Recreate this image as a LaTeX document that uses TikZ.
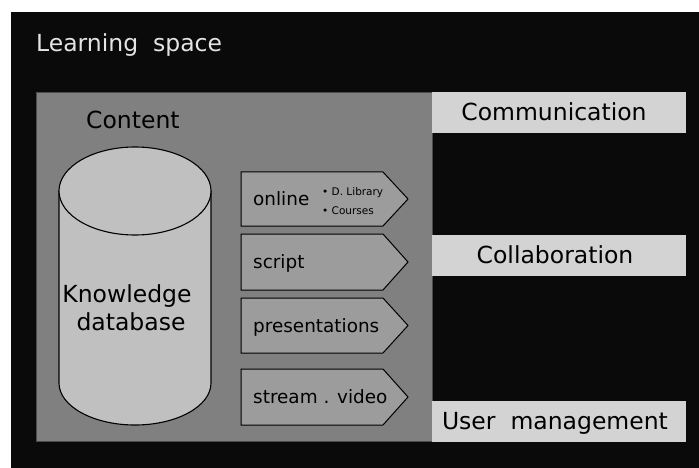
\documentclass[tikz,border=0pt]{standalone}
\usepackage{fontspec}
\setmainfont{DejaVu Sans}
\usepackage{tikz}
\usetikzlibrary{positioning}
\definecolor{spaceblack}{HTML}{0A0A0A}
\definecolor{contentgray}{HTML}{808080}
\definecolor{tabgray}{HTML}{9C9C9C}
\definecolor{cylgray}{HTML}{C0C0C0}
\definecolor{boxgray}{HTML}{D3D3D3}
\definecolor{titlegray}{HTML}{E4E4E4}
\begin{document}
\begin{tikzpicture}[x=1pt,y=1pt]
\tikzstyle{every node}+=[inner sep=0pt]
\tikzstyle{bigtext}=[font=\fontsize{23.5}{28}\selectfont,anchor=base]
\tikzstyle{tabtext}=[font=\fontsize{18.4}{22}\selectfont,anchor=base west]
\tikzstyle{smalltext}=[font=\fontsize{10.5}{12}\selectfont,anchor=base west]
\tikzstyle{tab}=[draw=black,fill=tabgray,line width=1pt]
\tikzstyle{sidebox}=[fill=boxgray]
\useasboundingbox (0,0) rectangle (699,-468);
\fill [white] (0,0) rectangle (699,-468);
\fill [spaceblack] (11,-12) rectangle (699,-468);
\node [bigtext,anchor=base west,text=titlegray] (space) at (36,-52) {Learning\ \ space};
\filldraw [fill=contentgray,draw=black!70,line width=0.8pt] (36,-92) rectangle (432,-441);
\node [bigtext,anchor=base west] (content) at (86,-129) {Content};
\filldraw [fill=cylgray,draw=black,line width=1.1pt] (59,-191) -- (59,-383) arc [start angle=180,end angle=360,x radius=76,y radius=42] -- (211,-191) -- cycle;
\filldraw [fill=cylgray,draw=black,line width=1.1pt] (135,-191) ellipse [x radius=76,y radius=44];
\node [bigtext] (kdbtop) at (127,-302) {Knowledge};
\node [bigtext] (kdbbottom) at (131,-330) {database};
\filldraw [tab] (241,-172) -- (383,-172) -- (408,-199) -- (383,-226) -- (241,-226) -- cycle;
\node [tabtext] (online) at (253,-205) {online};
\node [smalltext] (dlib) at (322,-195) {•\ D. Library};
\node [smalltext] (courses) at (322,-214) {•\ Courses};
\filldraw [tab] (241,-234) -- (383,-234) -- (408,-262) -- (383,-290) -- (241,-290) -- cycle;
\node [tabtext] (script) at (253,-268) {script};
\filldraw [tab] (241,-298) -- (383,-298) -- (408,-325.5) -- (383,-353) -- (241,-353) -- cycle;
\node [tabtext] (pres) at (253,-332) {presentations};
\filldraw [tab] (241,-369) -- (383,-369) -- (408,-397) -- (383,-425) -- (241,-425) -- cycle;
\node [tabtext] (video) at (253,-403) {stream . video};
\fill [sidebox] (432,-92) rectangle (686,-133);
\node [bigtext] (comm) at (554,-121) {Communication};
\fill [sidebox] (432,-235) rectangle (686,-276);
\node [bigtext] (collab) at (555,-263) {Collaboration};
\fill [sidebox] (432,-401) rectangle (686,-442);
\node [bigtext] (users) at (555,-429) {User\ \ management};
\end{tikzpicture}
\end{document}
